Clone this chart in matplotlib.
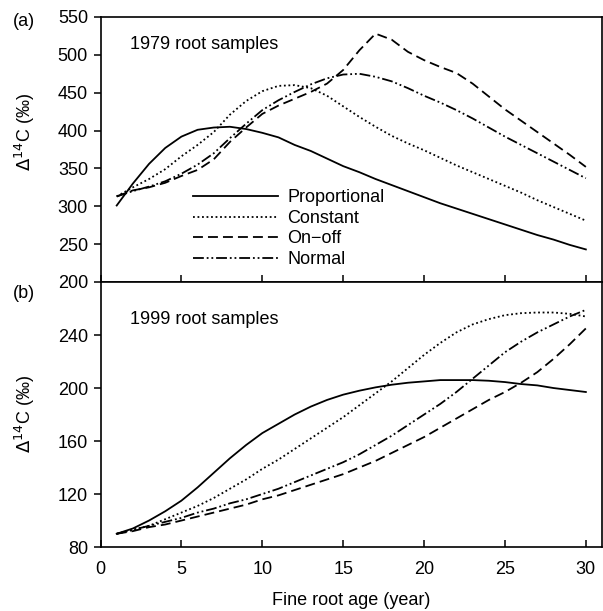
import matplotlib.pyplot as plt

plt.rcParams['font.family'] = ['Liberation Sans', 'DejaVu Sans']
plt.rcParams['font.size'] = 13

# fine root age (year)
age = list(range(1, 31))

# (a) 1979 root samples
prop79 = [301, 330, 356, 377, 392, 401, 404, 405, 402, 397, 391, 381, 373, 363, 353,
          345, 336, 328, 320, 312, 304, 297, 290, 283, 276, 269, 262, 256, 249, 243]
const79 = [313, 325, 336, 349, 366, 381, 398, 421, 439, 452, 459, 460, 456, 446, 432,
           418, 405, 393, 383, 374, 364, 354, 345, 336, 327, 318, 308, 299, 290, 281]
onoff79 = [313, 321, 325, 331, 340, 348, 362, 385, 404, 422, 433, 442, 451, 462, 480,
           506, 528, 520, 504, 493, 484, 476, 462, 445, 428, 413, 398, 383, 368, 352]
normal79 = [313, 320, 326, 333, 343, 355, 370, 390, 409, 427, 440, 451, 461, 469, 474,
            475, 471, 465, 456, 446, 437, 427, 416, 404, 392, 381, 370, 359, 348, 337]

# (b) 1999 root samples
prop99 = [90, 94, 100, 107, 115, 125, 136, 147, 157, 166, 173, 180, 186, 191, 195,
          198, 200.5, 202.5, 204, 205, 206, 206, 206, 205.5, 204.5, 203, 202, 200, 198.5, 197]
const99 = [90, 93, 96, 101, 106, 111, 117, 124, 131, 139, 146, 154, 162, 170, 178,
           187, 196, 205, 215, 225, 234, 242, 248, 252, 255, 256.5, 257, 257, 256, 254]
onoff99 = [90, 92, 95, 97, 100, 103, 106, 109, 112, 116, 119, 123, 127, 131, 135,
           140, 145, 151, 157, 163, 170, 177, 184, 191, 197, 204, 212, 222, 233, 245]
normal99 = [90, 93, 96, 99, 102, 106, 109, 113, 116, 120, 124, 129, 134, 139, 144,
            150, 157, 164, 172, 180, 188, 197, 207, 217, 227, 235, 242, 248, 254, 259]

labels = ['Proportional', 'Constant', 'On\u2212off', 'Normal']
styles = ['-', (0, (1, 1.5)), (0, (5.5, 2.8)), (0, (6, 1.6, 1, 1.6, 1, 1.6))]

fig = plt.figure(figsize=(6.03, 6.11), dpi=100)
ax1 = fig.add_axes([0.1667, 0.5385, 0.8317, 0.4337])
ax2 = fig.add_axes([0.1667, 0.1047, 0.8317, 0.4337])

for ys, ls, lab in zip([prop79, const79, onoff79, normal79], styles, labels):
    ax1.plot(age, ys, color='black', linestyle=ls, lw=1.3, label=lab)
for ys, ls in zip([prop99, const99, onoff99, normal99], styles):
    ax2.plot(age, ys, color='black', linestyle=ls, lw=1.3)

ax1.set_xlim(0, 31)
ax1.set_ylim(200, 550)
ax1.set_yticks(range(200, 551, 50))
ax2.set_xlim(0, 31)
ax2.set_ylim(80, 280)
ax2.set_yticks(range(80, 241, 40))

for ax in (ax1, ax2):
    ax.set_xticks(range(0, 31, 5))
    ax.tick_params(axis='x', direction='in', length=5, width=1.1, pad=10)
    ax.tick_params(axis='y', direction='out', length=5, width=1.1, pad=4)
    for s in ax.spines.values():
        s.set_linewidth(1.2)
    ax.set_ylabel('$\\Delta^{14}$C (\u2030)')
ax1.tick_params(axis='x', labelbottom=False)
ax1.yaxis.set_label_coords(-0.127, 0.566)
ax2.yaxis.set_label_coords(-0.127, 0.5)

ax1.text(0.058, 0.88, '1979 root samples', transform=ax1.transAxes)
ax2.text(0.058, 0.84, '1999 root samples', transform=ax2.transAxes)
fig.text(0.021, 0.958, '(a)')
fig.text(0.021, 0.512, '(b)')

ax1.legend(loc='upper left', bbox_to_anchor=(0.184, 0.35), frameon=False,
           handlelength=4.7, handletextpad=0.55, labelspacing=0.2,
           borderpad=0, borderaxespad=0)

ax2.set_xlabel('Fine root age (year)', labelpad=10)

fig.savefig('out.png', dpi=100)
